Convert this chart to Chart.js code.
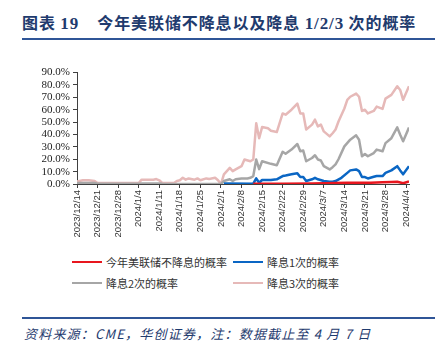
<!DOCTYPE html>
<html>
<head>
<meta charset="utf-8">
<script src="https://cdn.jsdelivr.net/npm/chart.js@4"></script>
<style>
  body { margin: 0; width: 442px; height: 342px; background: #fff; position: relative; overflow: hidden; }
  #title { position: absolute; left: 22px; top: 10px; font-family: "Noto Sans CJK SC", sans-serif; font-weight: bold; font-size: 16px; color: #1f3b6e; white-space: nowrap; letter-spacing: 0.9px; }
  #title .num { font-family: "Liberation Serif", serif; font-size: 17px; }
  .rule { position: absolute; left: 22px; width: 413px; background: #2f5597; }
  #wrap { position: absolute; left: 0; top: 63px; width: 442px; height: 181px; }
  #legend { position: absolute; left: 0; top: 254px; width: 442px; font-family: "Noto Sans CJK SC", sans-serif; font-size: 11px; color: #333; }
  .item { position: absolute; display: flex; align-items: center; white-space: nowrap; }
  .item i { display: inline-block; width: 30px; height: 2.5px; margin-right: 4px; }
  #source { position: absolute; left: 24px; top: 324px; font-family: "Noto Sans CJK SC", sans-serif; font-style: italic; font-size: 13px; color: #1f3b6e; white-space: nowrap; letter-spacing: 1.2px; }
</style>
</head>
<body>
<div id="title">图表 <span class="num">19</span>&nbsp;&nbsp;&nbsp;&nbsp;今年美联储不降息以及降息 <span class="num">1/2/3</span> 次的概率</div>
<div class="rule" style="top:38px;height:2px"></div>
<div id="wrap"><canvas id="chart"></canvas></div>
<div id="legend"></div>
<div class="rule" style="top:317px;height:1.5px"></div>
<div id="source">资料来源：CME，华创证券，注：数据截止至 4 月 7 日</div>
<script>
// weekly tick labels (one every 7 days, day 0 = 2023/12/14)
const tickLabels = ["2023/12/14", "2023/12/21", "2023/12/28", "2024/1/4", "2024/1/11", "2024/1/18",
  "2024/1/25", "2024/2/1", "2024/2/8", "2024/2/15", "2024/2/22", "2024/2/29", "2024/3/7",
  "2024/3/14", "2024/3/21", "2024/3/28", "2024/4/4"];

const seriesNames = ["今年美联储不降息的概率", "降息1次的概率", "降息2次的概率", "降息3次的概率"];
const seriesColors = ["#e8161e", "#0a66c4", "#a6a6a6", "#e6b9b8"];

// no cut (%)
const noCutDays = [60, 70, 80, 88, 92, 100, 104, 107, 109, 111, 113];
const noCutVals = [0.3, 0.3, 0.4, 0.8, 1.0, 1.0, 1.4, 1.6, 1.8, 0.6, 2.0];

// one cut (%)
const oneCutDays = [50, 60, 61, 62, 63, 66, 68, 70, 71, 73, 75, 76, 77, 78, 80, 81, 82, 84, 86, 87, 88,
  90, 92, 93, 95, 96, 97, 98, 99, 101, 102, 104, 105, 107, 109, 110, 111, 113];
const oneCutVals = [0.5, 0.3, 4.5, 1.0, 3.2, 3.2, 3.8, 6.4, 6.8, 7.8, 8.6, 5.6, 5.6, 2.4, 3.8, 5.0, 3.8, 2.4, 1.8, 1.8, 2.4,
  5.0, 9.0, 11.0, 11.8, 10.4, 5.6, 5.6, 4.5, 5.8, 6.4, 6.4, 9.0, 11.0, 14.4, 11.0, 7.8, 14.4];

// two cuts (%)
const twoCutDays = [0, 6, 7, 21, 22, 28, 29, 49, 50, 52, 53, 54, 56, 58, 59, 60, 61, 62, 63, 66, 68, 70, 71,
  73, 75, 76, 77, 78, 80, 81, 82, 83, 84, 86, 87, 88, 89, 91, 93, 95, 96, 97, 98, 99, 101, 102,
  104, 105, 107, 109, 110, 111, 113];
const twoCutVals = [0.8, 0.8, 0.2, 0.2, 0.5, 0.5, 0.2, 0, 2.4, 3.8, 2.4, 3.8, 4.5, 4.5, 5.0, 6.4, 19.8, 12.0, 18.4, 16.3, 15.2, 26.0, 24.4,
  27.8, 32.3, 26.4, 27.0, 18.4, 21.0, 23.2, 19.8, 19.0, 14.4, 11.8, 13.6, 15.8, 20.0, 30.4, 35.8, 39.3, 35.8, 22.4, 24.3, 22.4, 25.0, 27.8,
  26.4, 33.0, 37.0, 45.7, 39.8, 34.5, 45.7];

// three cuts (%)
const threeCutDays = [0, 2, 4, 6, 7, 21, 22, 26, 27, 28, 29, 33, 34, 35, 36, 37, 38, 40, 41, 42, 44, 45, 47, 48,
  49, 50, 52, 53, 54, 56, 57, 59, 60, 61, 62, 63, 65, 66, 68, 70, 71, 73, 75, 76, 77, 78, 80, 81, 82,
  83, 84, 86, 87, 88, 89, 91, 92, 93, 95, 96, 97, 98, 99, 101, 102, 104, 105, 107, 109, 110, 111, 113];
const threeCutVals = [2.0, 3.0, 3.0, 2.5, 0.8, 0.8, 3.5, 3.5, 4.0, 3.0, 0.8, 0.8, 2.5, 3.0, 5.0, 3.5, 4.5, 3.5, 4.5, 3.0, 4.5, 4.0, 5.0, 3.0,
  0, 7.8, 13.0, 10.4, 11.8, 14.4, 19.8, 18.4, 19.8, 49.0, 37.0, 46.0, 45.0, 43.0, 42.0, 57.0, 56.0, 60.0, 65.0, 57.0, 57.0, 44.0, 48.0, 52.0, 46.5,
  48.0, 42.5, 38.5, 41.0, 44.0, 50.5, 61.0, 68.0, 70.5, 73.0, 70.5, 59.0, 60.0, 57.0, 59.0, 62.5, 60.7, 69.0, 72.0, 79.0, 76.0, 68.0, 79.0];

const yTicks = [0, 10, 20, 30, 40, 50, 60, 70, 80, 90];

const dayLists = [noCutDays, oneCutDays, twoCutDays, threeCutDays];
const valLists = [noCutVals, oneCutVals, twoCutVals, threeCutVals];

const datasets = seriesNames.map((name, i) => ({
  label: name,
  data: dayLists[i].map((d, j) => ({ x: d, y: valLists[i][j] })),
  borderColor: seriesColors[i],
  backgroundColor: seriesColors[i],
  borderWidth: 2.5,
  pointRadius: 0,
  tension: 0,
  borderJoinStyle: "round"
}));

// html legend, two per row
const legend = document.getElementById("legend");
seriesNames.forEach((name, i) => {
  const el = document.createElement("div");
  el.className = "item";
  el.style.left = (i % 2 === 0 ? 72 : 233) + "px";
  el.style.top = (Math.floor(i / 2) * 21) + "px";
  el.innerHTML = '<i style="background:' + seriesColors[i] + '"></i>' + name;
  legend.appendChild(el);
});

const axisColor = "#404040";

new Chart(document.getElementById("chart"), {
  type: "line",
  data: { datasets },
  options: {
    responsive: true,
    maintainAspectRatio: false,
    animation: false,
    layout: { padding: { left: 0, right: 33, top: 0, bottom: 0 } },
    plugins: { legend: { display: false }, tooltip: { enabled: false } },
    scales: {
      x: {
        type: "linear",
        min: 0,
        max: 113,
        afterBuildTicks: (scale) => { scale.ticks = tickLabels.map((_, i) => ({ value: i * 7 })); },
        afterFit: (scale) => { scale.height = 60; },
        ticks: {
          autoSkip: false,
          minRotation: 90,
          maxRotation: 90,
          padding: 2,
          color: "#333",
          font: { family: "Liberation Sans", size: 9.5 },
          callback: (v) => tickLabels[Math.round(v / 7)]
        },
        grid: { drawOnChartArea: false, drawTicks: true, tickLength: 4, color: axisColor },
        border: { display: true, color: axisColor, width: 1 }
      },
      y: {
        min: 0,
        max: 90,
        afterBuildTicks: (scale) => { scale.ticks = yTicks.map(v => ({ value: v })); },
        afterFit: (scale) => { scale.width = 77; },
        ticks: {
          autoSkip: false,
          padding: 3,
          color: "#222",
          font: { family: "Liberation Serif", size: 11 },
          callback: (v) => v.toFixed(1) + "%"
        },
        grid: { drawOnChartArea: false, drawTicks: true, tickLength: 4, color: axisColor },
        border: { display: true, color: axisColor, width: 1 }
      }
    }
  }
});
</script>
</body>
</html>
